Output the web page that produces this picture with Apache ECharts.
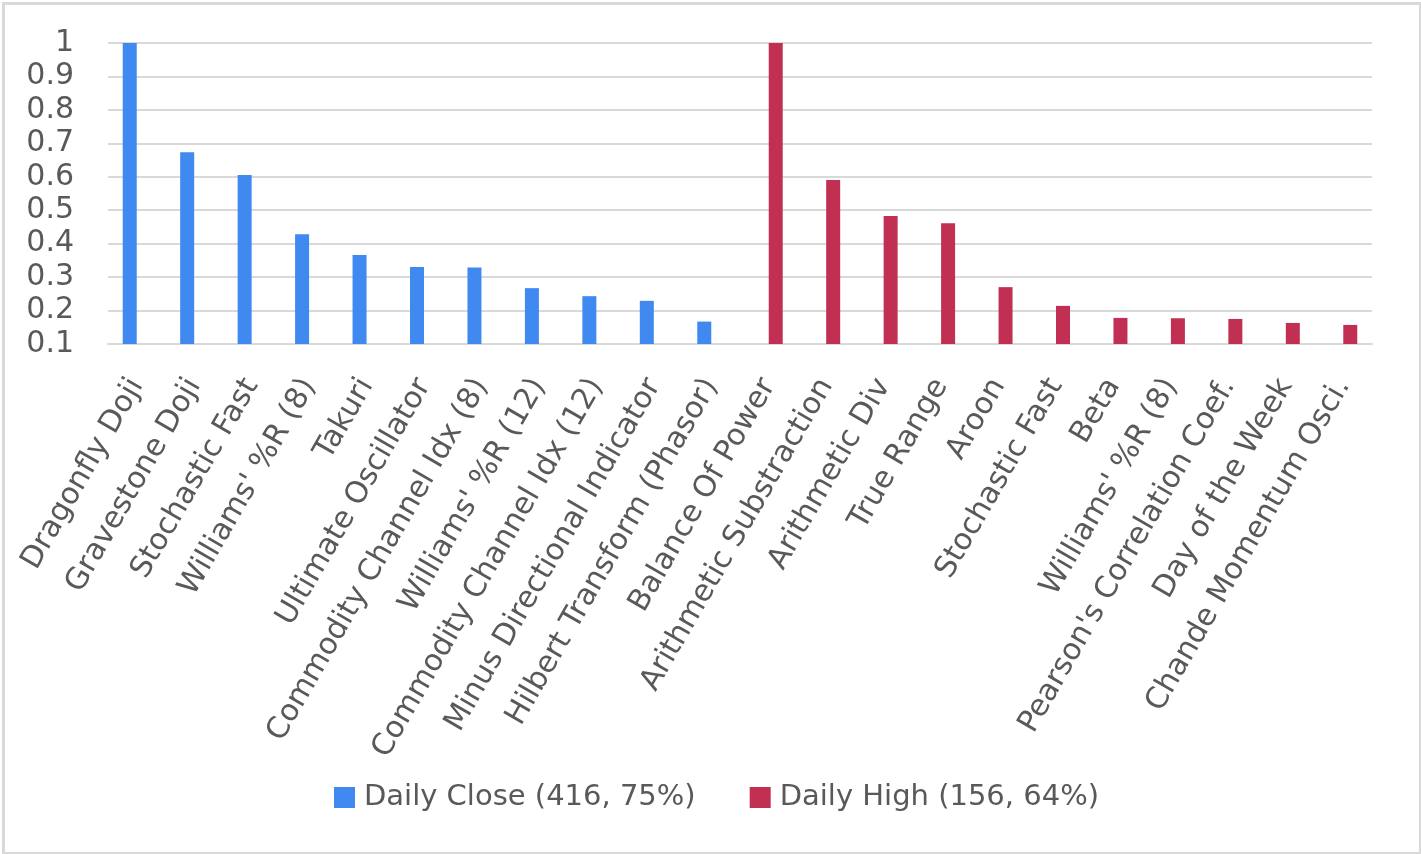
<!DOCTYPE html>
<html>
<head>
<meta charset="utf-8">
<script src="https://cdn.jsdelivr.net/npm/echarts@6/dist/echarts.min.js"></script>
<style>
html,body{margin:0;padding:0;background:#fff;}
#chart{width:1421px;height:854px;}
</style>
</head>
<body>
<div id="chart"></div>
<script>
var closeCategories = ["Dragonfly Doji","Gravestone Doji","Stochastic Fast","Williams' %R (8)","Takuri","Ultimate Oscillator","Commodity Channel Idx (8)","Williams' %R (12)","Commodity Channel Idx (12)","Minus Directional Indicator","Hilbert Transform (Phasor)"];
var highCategories = ["Balance Of Power","Arithmetic Substraction","Arithmetic Div","True Range","Aroon","Stochastic Fast","Beta","Williams' %R (8)","Pearson's Correlation Coef.","Day of the Week","Chande Momentum Osci."];
var closeValues = [1.0, 0.673, 0.605, 0.428, 0.366, 0.330, 0.329, 0.267, 0.243, 0.229, 0.167];
var highValues = [1.0, 0.590, 0.483, 0.461, 0.270, 0.214, 0.178, 0.177, 0.175, 0.163, 0.157];
var seriesNames = ["Daily Close (416, 75%)", "Daily High (156, 64%)"];
var yTicks = [0.1, 0.2, 0.3, 0.4, 0.5, 0.6, 0.7, 0.8, 0.9, 1];

var categories = closeCategories.concat(highCategories);
var closeData = closeValues.concat(highCategories.map(function(){return null;}));
var highData = closeCategories.map(function(){return null;}).concat(highValues);

var FONT = "DejaVu Sans";
var TEXT = "#595959";
var GRID = "#d9d9d9";

var chart = echarts.init(document.getElementById('chart'), null, {renderer:'canvas'});
chart.setOption({
  animation: false,
  backgroundColor: '#ffffff',
  textStyle: {fontFamily: FONT},
  graphic: [{
    type: 'rect', left: 1, top: 1, silent: true,
    shape: {x: 0, y: 0, width: 1417, height: 850},
    style: {fill: null, stroke: GRID, lineWidth: 3}
  }],
  grid: {left: 108, right: 49, top: 43, bottom: 510, containLabel: false},
  legend: {
    data: seriesNames,
    top: 778,
    left: 329,
    itemWidth: 21, itemHeight: 21, itemGap: 54,
    icon: 'rect',
    textStyle: {fontFamily: FONT, fontSize: 29, color: TEXT, padding: [0,0,0,4]},
    selectedMode: false
  },
  xAxis: {
    type: 'category',
    data: categories,
    boundaryGap: true,
    axisTick: {show: false},
    axisLine: {lineStyle: {color: GRID, width: 2}},
    axisLabel: {interval: 0, rotate: 60, margin: 37, fontFamily: FONT, fontSize: 30, color: TEXT}
  },
  yAxis: {
    type: 'value',
    min: yTicks[0], max: yTicks[yTicks.length-1], interval: 0.1,
    axisLine: {show: false},
    axisTick: {show: false},
    splitLine: {lineStyle: {color: GRID, width: 2}},
    axisLabel: {margin: 34, fontFamily: FONT, fontSize: 30, color: TEXT,
      formatter: function(v){ return String(+v.toFixed(1)); }}
  },
  series: [
    {name: seriesNames[0], type: 'bar', data: closeData, barWidth: 14, barGap: '0%',
     itemStyle: {color: '#3f89f1'}},
    {name: seriesNames[1], type: 'bar', data: highData, barWidth: 14, barGap: '0%',
     itemStyle: {color: '#c13052'}}
  ]
});
</script>
</body>
</html>
